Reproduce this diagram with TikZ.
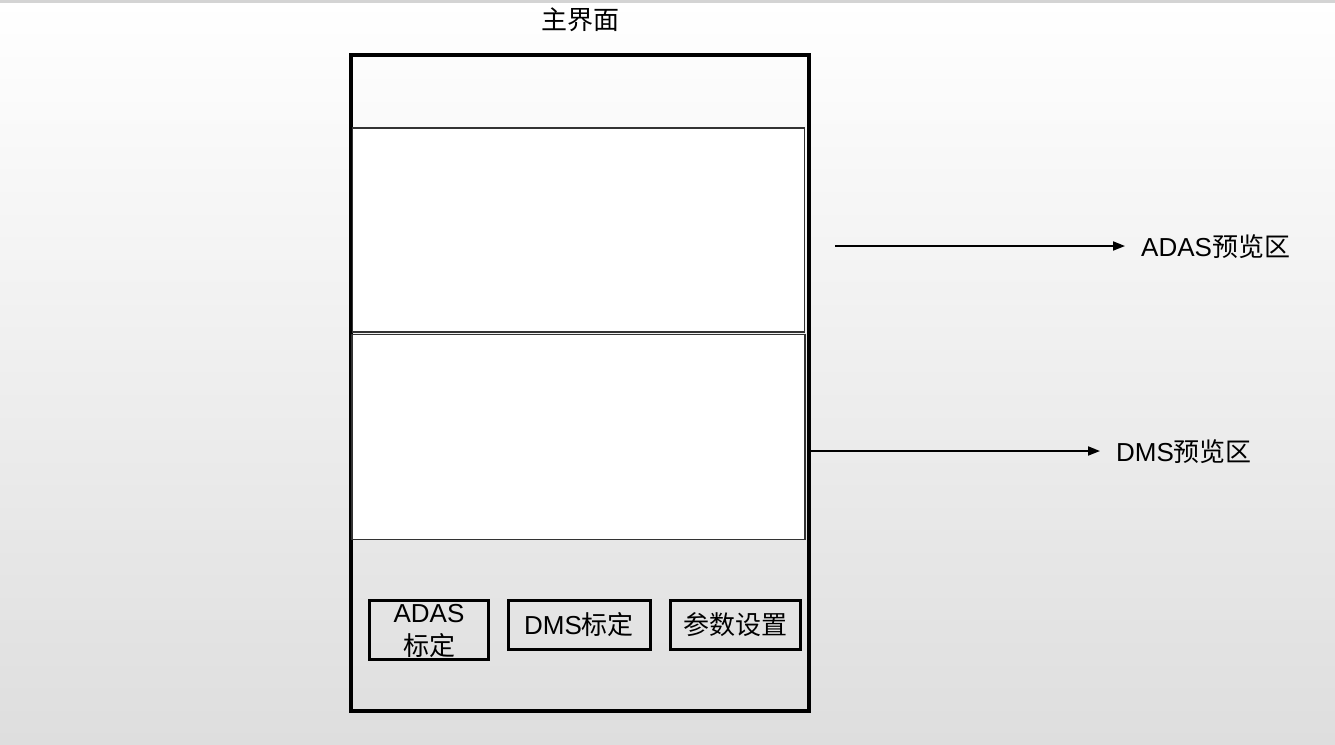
\documentclass[tikz,border=0pt]{standalone}
\usepackage{fontspec}
\setmainfont{Liberation Sans}
\newfontfamily\cjk{Noto Sans CJK SC}
\usetikzlibrary{arrows.meta}
\definecolor{bgbot}{RGB}{222,222,222}
\definecolor{bgmid}{RGB}{243,243,243}
\definecolor{edgegray}{RGB}{51,51,51}
\tikzset{
  lbl/.style={font=\fontsize{26}{31}\selectfont, inner sep=0pt, text=black},
  outerbox/.style={draw=black, line width=4.5pt},
  pane/.style={draw=edgegray, fill=white},
  btn/.style={draw=black, line width=3pt},
  arr/.style={draw=black, line width=1.8pt, -{Triangle[length=12pt,width=9pt]}},
}
\begin{document}
\begin{tikzpicture}[x=1pt,y=-1pt]
\shade[top color=white, middle color=bgmid, bottom color=bgbot] (0,0) rectangle (1335,744);
\useasboundingbox (0,0) rectangle (1335,744);
\draw[line width=3pt, draw={rgb,255:red,212;green,212;blue,212}] (0,1.5) -- (1335,1.5);
% title
\node[lbl] (title) at (580,20) {\cjk 主界面};
% outer frame
\node[outerbox, minimum width=458pt, minimum height=656pt, inner sep=0pt] (frame) at (580,383) {};
% preview panes
\node[pane, line width=1.6pt, minimum width=452pt, minimum height=204pt, inner sep=0pt] (adas) at (578.5,230) {};
\node[pane, line width=1.1pt, minimum width=453pt, minimum height=205pt, inner sep=0pt] (dms) at (578.5,437) {};
% buttons
\node[btn, minimum width=119pt, minimum height=59pt, inner sep=0pt] (b1) at (428.5,629.5) {};
\node[lbl, align=center, font=\fontsize{26}{33}\selectfont] (b1t) at (429,631) {ADAS\\\cjk 标定};
\node[btn, minimum width=142pt, minimum height=49pt, inner sep=0pt] (b2) at (579,624.5) {{\fontsize{26}{31}\selectfont DMS\cjk 标定}};
\node[btn, minimum width=130pt, minimum height=49pt, inner sep=0pt] (b3) at (735,624.5) {{\fontsize{26}{31}\selectfont\cjk 参数设置}};
% labels and arrows
\node[lbl, anchor=west] (adasl) at (1141,247) {ADAS\cjk 预览区};
\node[lbl, anchor=west] (dmsl) at (1116,452) {DMS\cjk 预览区};
\coordinate (adasfrom) at (835,246);
\coordinate (dmsfrom) at (809,451);
\draw[arr, shorten >=16pt] (adasfrom) -- (adasfrom -| adasl.west);
\draw[arr, shorten >=16pt] (dmsfrom) -- (dmsfrom -| dmsl.west);
\end{tikzpicture}
\end{document}
